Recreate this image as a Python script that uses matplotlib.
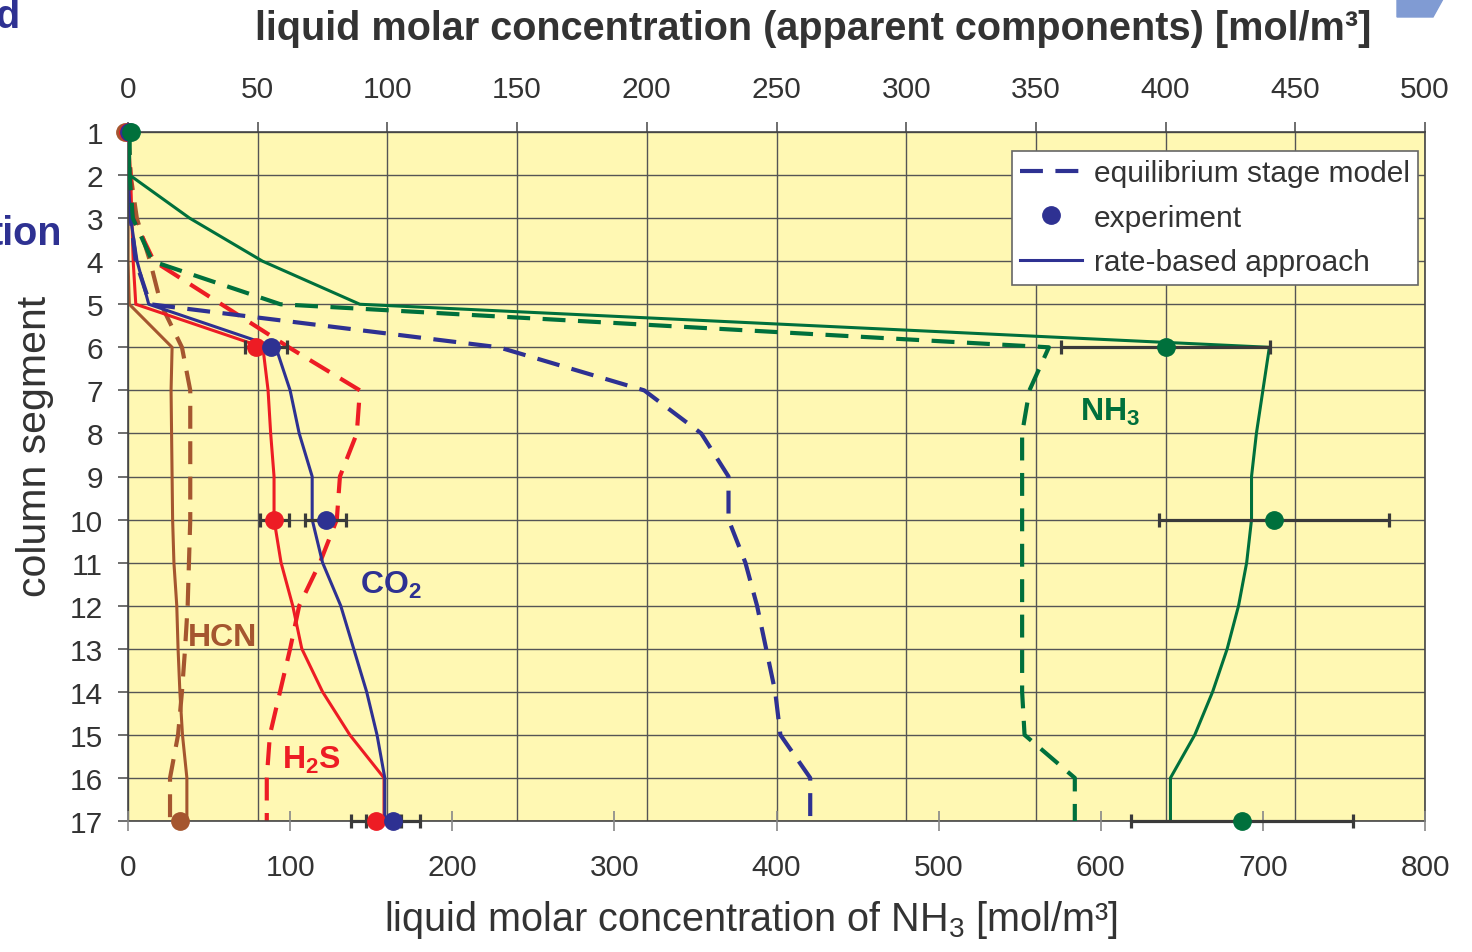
import numpy as np
import matplotlib.pyplot as plt
from matplotlib.lines import Line2D
from matplotlib.patches import Polygon

plt.rcParams['font.family'] = ['Liberation Sans', 'DejaVu Sans']
plt.rcParams['mathtext.fontset'] = 'custom'
plt.rcParams['mathtext.rm'] = 'Liberation Sans'
plt.rcParams['mathtext.it'] = 'Liberation Sans:italic'
plt.rcParams['mathtext.bf'] = 'Liberation Sans:bold'

segments = np.arange(1, 18)

# apparent components, top axis [mol/m3]
co2_rate = [0, 0, 1, 3.5, 8, 57, 62.5, 66, 71, 71, 75, 82, 87, 92, 96, 99, 99]
co2_equil = [0, 0, 1, 3, 8.5, 143, 199, 221, 231.5, 231.5, 238, 242.5, 246, 249.5, 251.5, 263, 263]
h2s_rate = [0, 1, 1.5, 2, 3, 52, 54, 55, 56.3, 56.3, 59, 63.5, 67, 75, 85.5, 98.7, 98.7]
h2s_equil = [0, 1, 2, 10, 36, 62, 89.4, 88.2, 81.7, 80.5, 74, 66, 62.5, 58.6, 54.7, 53.5, 53.5]
hcn_rate = [0, 0, 0, 0, 0.5, 17, 16.6, 16.8, 17, 17.2, 17.7, 18.8, 19.3, 20, 21, 22.7, 22.7]
hcn_equil = [0, 1, 3.4, 8.5, 12.7, 20.8, 24, 24, 24, 24, 23.5, 23, 22, 20.8, 19.3, 16.2, 16.2]

# NH3, bottom axis [mol/m3]
nh3_rate = [1, 1, 38, 83, 143, 704, 700, 696, 693, 693, 690, 685, 678, 669, 658, 643, 643]
nh3_equil = [1, 1, 3, 15, 94, 568, 556, 551.5, 551.5, 551.5, 551.5, 551.5, 551.5, 551.5, 553, 584, 584]

# experiments
exp_seg = [1, 6, 10, 17]
co2_exp = [0.5, 55, 76.3, 102]
co2_err = [0, 6.2, 7.9, 10.4]
h2s_exp = [0, 49.3, 56.3, 95.6]
h2s_err = [0, 4.2, 5.6, 9.6]
hcn_seg = [1, 17]
hcn_exp = [-1, 20]
nh3_exp = [2, 640, 707, 687]
nh3_err = [0, 64.5, 71, 68.5]

blue = '#2E3192'
red = '#ED1C24'
green = '#00703C'
brown = '#A5562F'
txt = '#333333'

fig = plt.figure(figsize=(14.72, 9.53), dpi=100)
ax = fig.add_axes([128/1472, 1-822/953, 1297/1472, 689/953])
axn = ax.twiny()
ax.xaxis.tick_top()
axn.xaxis.tick_bottom()

ax.set_facecolor('#FFF8B3')
ax.set_xlim(0, 500)
ax.set_ylim(17, 1)
ax.set_xticks(np.arange(0, 501, 50))
ax.set_yticks(segments)
ax.grid(True, color='#555555', lw=1.0)
ax.set_axisbelow(True)
axn.set_xlim(0, 800)
axn.set_xticks(np.arange(0, 801, 100))

for s in ax.spines.values():
    s.set_color('#444444')
    s.set_linewidth(1.2)
for s in axn.spines.values():
    s.set_visible(False)

ax.tick_params(axis='x', top=True, bottom=False, labeltop=True, labelbottom=False,
               direction='out', length=7, width=1.2, color='#555555', pad=14,
               labelsize=21.5, labelcolor=txt)
ax.tick_params(axis='y', direction='out', length=7, width=1.2, color='#555555', pad=11,
               labelsize=21.5, labelcolor=txt)
axn.tick_params(axis='x', direction='inout', length=14, width=1.2, color='#888888', pad=16,
                labelsize=21.5, labelcolor=txt)

dash = (5.5, 3)
lw_rate = 2.2
lw_eq = 3.0
ax.plot(hcn_rate, segments, color=brown, lw=lw_rate)
ax.plot(hcn_equil, segments, color=brown, lw=lw_eq, dashes=dash)
ax.plot(h2s_rate, segments, color=red, lw=lw_rate)
ax.plot(h2s_equil, segments, color=red, lw=lw_eq, dashes=dash)
ax.plot(co2_rate, segments, color=blue, lw=lw_rate)
ax.plot(co2_equil, segments, color=blue, lw=lw_eq, dashes=dash)
axn.plot(nh3_rate, segments, color=green, lw=lw_rate)
axn.plot(nh3_equil, segments, color=green, lw=lw_eq, dashes=dash)

ekw = dict(fmt='none', ecolor='#3a3a3a', elinewidth=2.3, capsize=5, capthick=2.3, zorder=4)
for eb in [ax.errorbar(h2s_exp, exp_seg, xerr=h2s_err, **ekw),
           ax.errorbar(co2_exp, exp_seg, xerr=co2_err, **ekw),
           axn.errorbar(nh3_exp, exp_seg, xerr=nh3_err, **ekw)]:
    for art in eb.get_children():
        art.set_clip_on(False)

ms = 12.5
ax.plot(hcn_exp, hcn_seg, 'o', ms=ms, color=brown, zorder=5, clip_on=False)
ax.plot(h2s_exp, exp_seg, 'o', ms=ms, color=red, zorder=5, clip_on=False)
ax.plot(co2_exp, exp_seg, 'o', ms=ms, color=blue, zorder=5, clip_on=False)
axn.plot(nh3_exp, exp_seg, 'o', ms=ms, color=green, zorder=5, clip_on=False)

ax.text(89.4, 11.5, r'CO$_\mathbf{2}$', color=blue, fontsize=23, weight='bold', va='center')
ax.text(59.4, 15.56, r'H$_\mathbf{2}$S', color=red, fontsize=23, weight='bold', va='center')
ax.text(23.1, 12.73, 'HCN', color=brown, fontsize=23, weight='bold', va='center')
ax.text(367, 7.48, r'NH$_\mathbf{3}$', color=green, fontsize=23, weight='bold', va='center')

handles = [Line2D([], [], color=blue, lw=lw_eq, dashes=dash),
           Line2D([], [], color=blue, marker='o', ls='none', ms=ms),
           Line2D([], [], color=blue, lw=lw_rate)]
labels = ['equilibrium stage model', 'experiment', 'rate-based approach']
leg = axn.legend(handles, labels, loc='upper right', bbox_to_anchor=(0.9946, 0.9724),
                 fontsize=21.5, fancybox=False, edgecolor='#666666', framealpha=1,
                 borderaxespad=0, handlelength=2.05, handletextpad=0.4,
                 labelspacing=0.55, borderpad=0.28, labelcolor=txt)
leg.get_frame().set_linewidth(1.2)

fig.text(813/1472, 1-29/953, 'liquid molar concentration (apparent components) [mol/m³]',
         ha='center', va='center', fontsize=28.5, weight='bold', color=txt)
fig.text(751/1472, 1-920/953, 'liquid molar concentration of NH$_3$ [mol/m³]',
         ha='center', va='center', fontsize=28.5, color=txt)
fig.text(35/1472, 1-446/953, 'column segment', rotation=90,
         ha='center', va='center', fontsize=29.5, color=txt)

# slide fragments around the chart
fig.text(-5/1472, 1-28/953, 'd', ha='left', va='baseline', fontsize=28.5, weight='bold', color=blue)
fig.text(62/1472, 1-245/953, 'tion', ha='right', va='baseline', fontsize=28.5, weight='bold', color=blue)
fig.patches.append(Polygon([[1397/1472, 1], [1443/1472, 1], [1433/1472, 1-18/953], [1397/1472, 1-18/953]],
                           closed=True, transform=fig.transFigure, color='#809BD3'))

fig.savefig('out.png', dpi=100)
